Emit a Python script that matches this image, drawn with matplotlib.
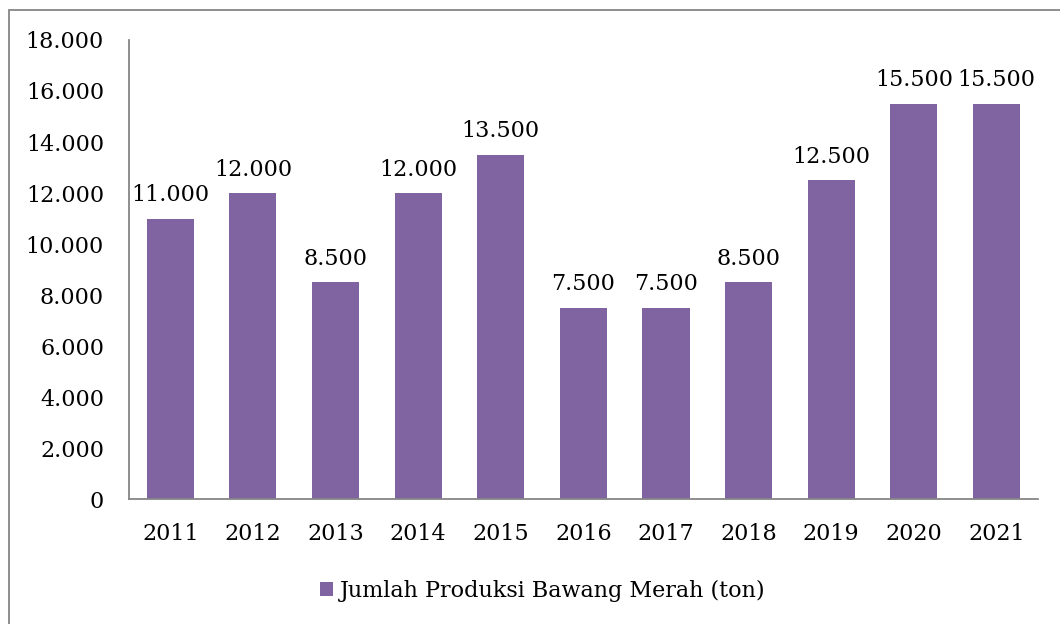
import matplotlib
matplotlib.use('Agg')
import matplotlib.pyplot as plt
from matplotlib.patches import Rectangle
from matplotlib.ticker import FuncFormatter
import numpy as np

years = ['2011', '2012', '2013', '2014', '2015', '2016', '2017', '2018', '2019', '2020', '2021']
produksi = [11000, 12000, 8500, 12000, 13500, 7500, 7500, 8500, 12500, 15500, 15500]
series_name = 'Jumlah Produksi Bawang Merah (ton)'

def titik(v, pos=None):
    return '{:,.0f}'.format(v).replace(',', '.')

plt.rcParams['font.family'] = ['DejaVu Serif']

fig = plt.figure(figsize=(10.6, 6.24), dpi=100)
ax = fig.add_axes([0.1217, 0.2003, 0.8573, 0.7356])

x = np.arange(len(years))
bars = ax.bar(x, produksi, width=0.57, color='#8064A2', label=series_name)
ax.bar_label(bars, labels=[titik(v) for v in produksi], padding=9, fontsize=16)

ax.set_xlim(-0.5, len(years) - 0.5)
ax.set_ylim(0, 18000)
ax.set_yticks(np.arange(0, 18001, 2000))
ax.yaxis.set_major_formatter(FuncFormatter(titik))
ax.set_xticks(x)
ax.set_xticklabels(years)
ax.tick_params(axis='both', length=0, labelsize=16)
ax.tick_params(axis='y', pad=18)
ax.tick_params(axis='x', pad=17)

for s in ['top', 'right']:
    ax.spines[s].set_visible(False)
for s in ['left', 'bottom']:
    ax.spines[s].set_color('#868686')
    ax.spines[s].set_linewidth(1.3)

fig.legend(loc='center', bbox_to_anchor=(0.512, 0.053), frameon=False, fontsize=16,
           handlelength=0.6, handleheight=0.6, handletextpad=0.3)

# outer chart frame (only left and top edges fall inside the picture)
fig.add_artist(Rectangle((9 / 1060, -0.2), 1.5, 1.2 - 10 / 624,
                         transform=fig.transFigure, fill=False,
                         edgecolor='#868686', linewidth=1.3))

fig.savefig('out.png', dpi=100)
